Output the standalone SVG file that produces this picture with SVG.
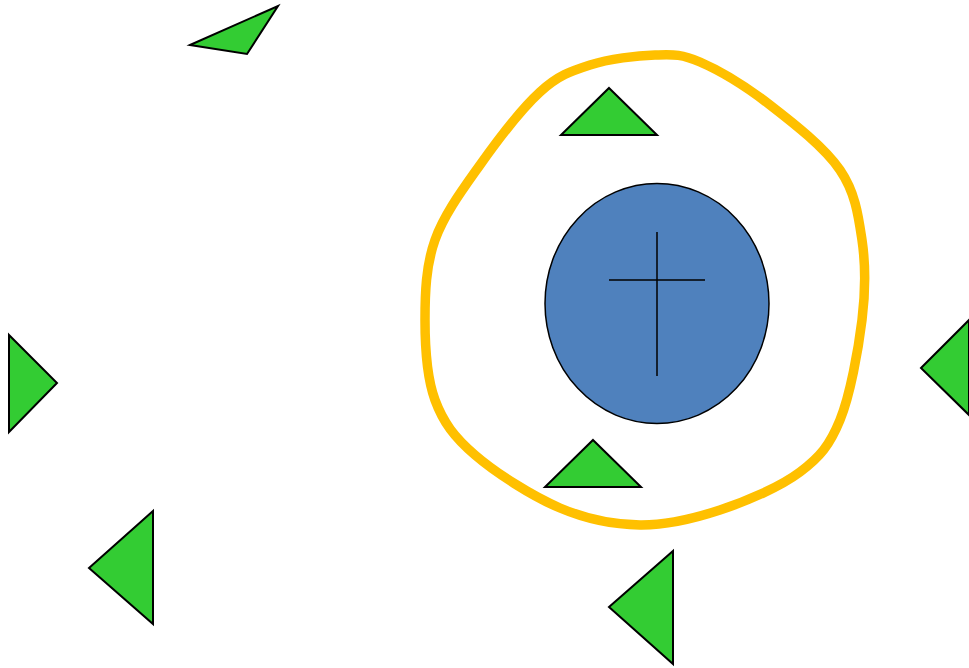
<svg xmlns="http://www.w3.org/2000/svg" width="969" height="668" viewBox="0 0 969 668">
<style>
.tri{fill:#33CC33;stroke:#000;stroke-width:2;stroke-linejoin:miter}
.blob{fill:none;stroke:#FFC000;stroke-width:9.5}
.nuc{fill:#4F81BD;stroke:#000;stroke-width:1.5}
.cross{stroke:#000;stroke-width:1.5;fill:none}
</style>
<rect width="969" height="668" fill="#fff"/>
<g id="cell-membrane"><path class="blob" d="M655,55 C673.3,54.5 680.8,53.7 700,62 C719.2,70.3 746.7,87 770,105 C793.3,123 824.7,147.5 840,170 C855.3,192.5 858.3,215 862,240 C865.7,265 865.7,290 862,320 C858.3,350 850.3,394.7 840,420 C829.7,445.3 820,457 800,472 C780,487 746.7,501.2 720,510 C693.3,518.8 666.7,525.3 640,525 C613.3,524.7 587.5,519.7 560,508 C532.5,496.3 495.8,473 475,455 C454.2,437 443.3,422.5 435,400 C426.7,377.5 425,346.7 425,320 C425,293.3 425.8,265.8 435,240 C444.2,214.2 462.5,189.7 480,165 C497.5,140.3 521.7,108.7 540,92 C558.3,75.3 570.8,71.2 590,65 C609.2,58.8 636.7,55.5 655,55 Z"/></g>
<g id="nucleus"><ellipse class="nuc" cx="657" cy="303.5" rx="112" ry="120"/>
<line class="cross" x1="657" y1="232" x2="657" y2="376"/><line class="cross" x1="609" y1="280" x2="705" y2="280"/></g>
<g id="tri-topleft"><polygon class="tri" points="190,45 278,6 247,54"/></g>
<g id="tri-top"><polygon class="tri" points="609,88 657,135 561,135"/></g>
<g id="tri-bottom"><polygon class="tri" points="593,440 641,487 545,487"/></g>
<g id="tri-right"><polygon class="tri" points="921,368 969,320 969,415"/></g>
<g id="tri-left"><polygon class="tri" points="9,335 57,383 9,432"/></g>
<g id="tri-bottomleft"><polygon class="tri" points="89,568 153,511 153,624"/></g>
<g id="tri-bottomcenter"><polygon class="tri" points="609,607 673,551 673,664"/></g>
<g id="connectors"/>
</svg>
